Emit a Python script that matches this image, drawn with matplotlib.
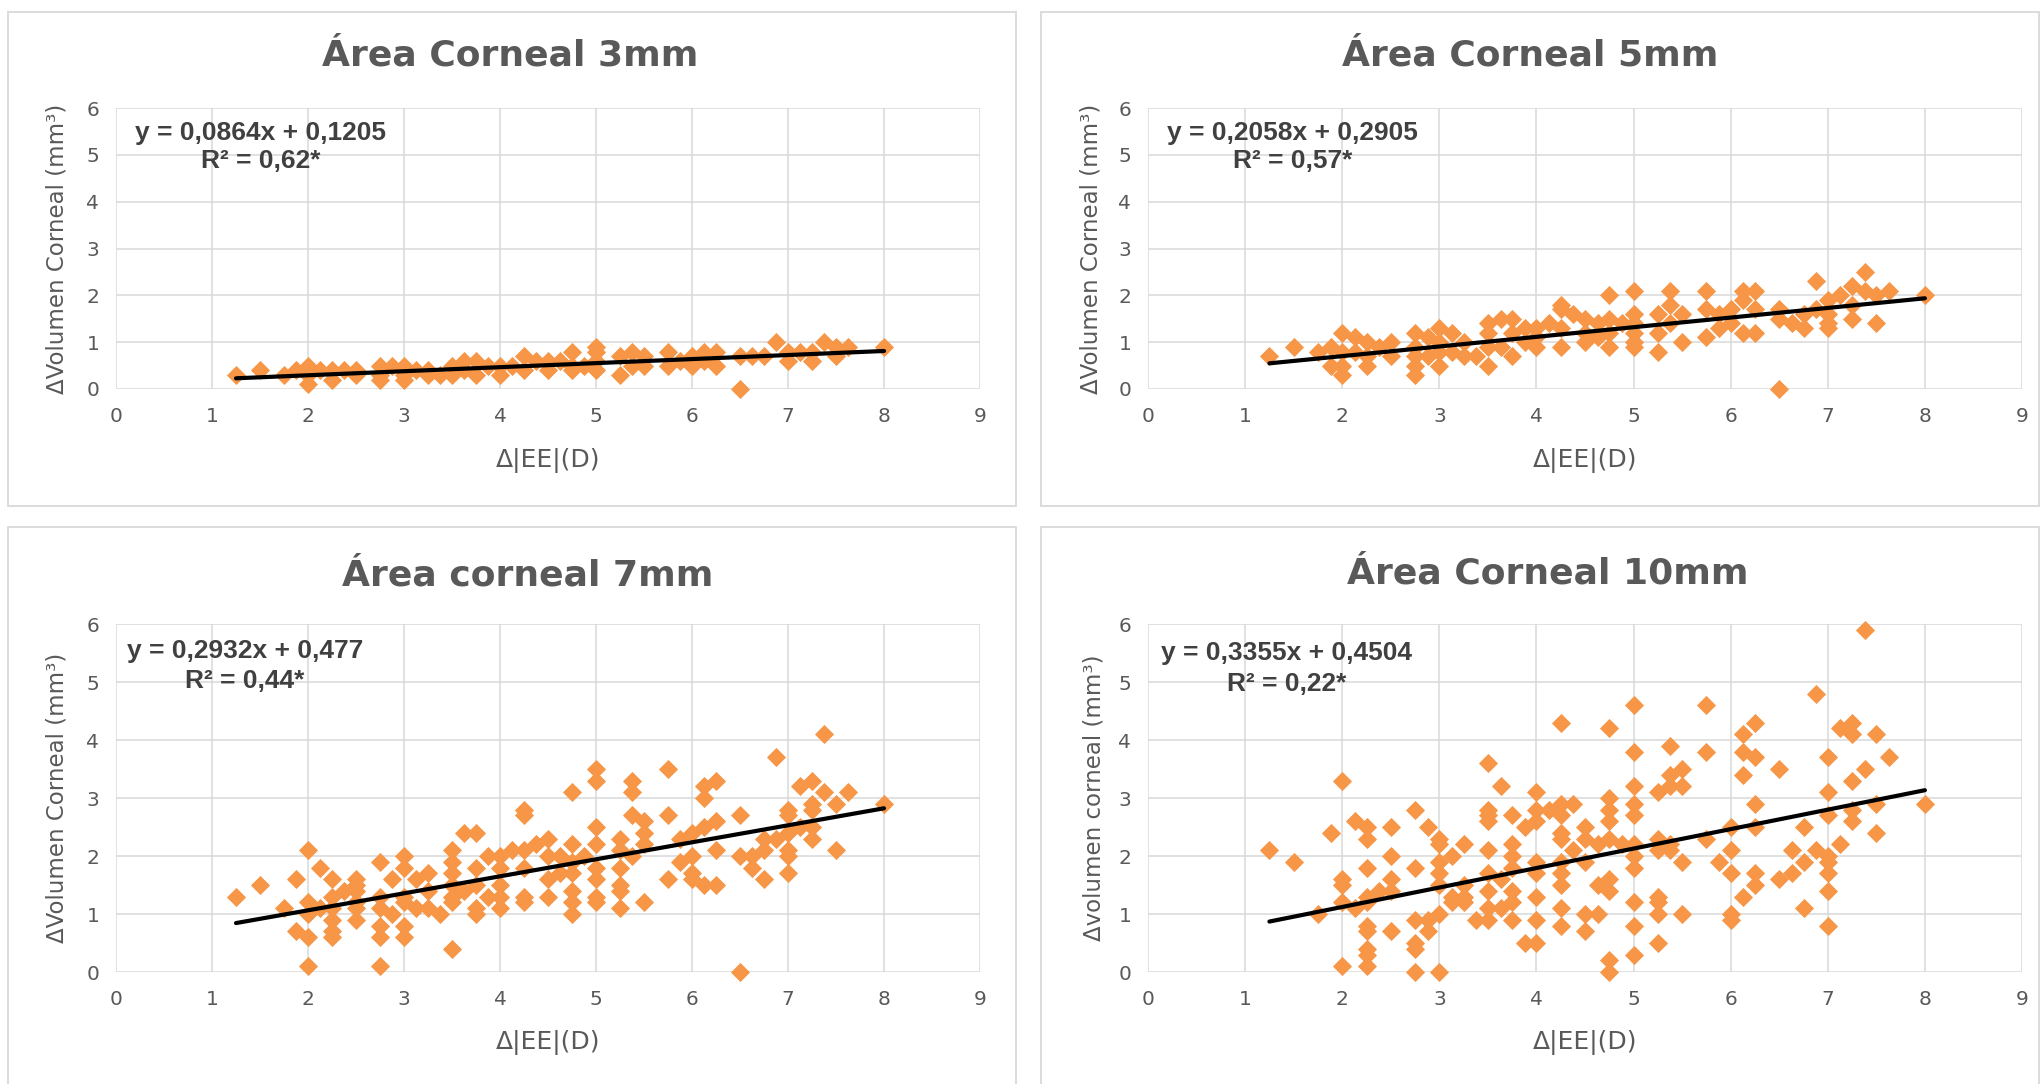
import numpy as np
import matplotlib
matplotlib.use("Agg")
import matplotlib.pyplot as plt
from matplotlib.patches import Rectangle

# ---------------- data ----------------
titles = ["Área Corneal 3mm", "Área Corneal 5mm", "Área corneal 7mm", "Área Corneal 10mm"]
ylabels = ["ΔVolumen Corneal (mm³)", "ΔVolumen Corneal (mm³)",
           "ΔVolumen Corneal (mm³)", "Δvolumen corneal (mm³)"]
xlabel = "Δ|EE|(D)"
eq_text = ["y = 0,0864x + 0,1205", "y = 0,2058x + 0,2905",
           "y = 0,2932x + 0,477", "y = 0,3355x + 0,4504"]
r2_text = ["R² = 0,62*", "R² = 0,57*", "R² = 0,44*", "R² = 0,22*"]
slopes = [0.0864, 0.2058, 0.2932, 0.3355]
intercepts = [0.1205, 0.2905, 0.477, 0.4504]

x_3mm = [1.25, 1.5, 1.75, 1.88, 2.0, 2.0, 2.0, 2.13, 2.25, 2.25, 2.38, 2.5, 2.5,
         2.75, 2.75, 2.75, 2.88, 3.0, 3.0, 3.0, 3.13, 3.25, 3.25, 3.38, 3.5, 3.5,
         3.63, 3.63, 3.75, 3.75, 3.88, 4.0, 4.0, 4.13, 4.25, 4.25, 4.38, 4.5, 4.5,
         4.63, 4.75, 4.75, 4.75, 4.88, 5.0, 5.0, 5.0, 5.0, 5.25, 5.25, 5.38, 5.38,
         5.5, 5.5, 5.75, 5.75, 5.88, 6.0, 6.0, 6.13, 6.13, 6.25, 6.25, 6.5, 6.5,
         6.63, 6.75, 6.88, 7.0, 7.0, 7.13, 7.25, 7.25, 7.38, 7.5, 7.5, 7.63, 8.0]
y_3mm = [0.3, 0.4, 0.3, 0.4, 0.5, 0.3, 0.1, 0.4, 0.4, 0.2, 0.4, 0.4, 0.3,
         0.5, 0.3, 0.2, 0.5, 0.5, 0.3, 0.2, 0.4, 0.4, 0.3, 0.3, 0.5, 0.3,
         0.6, 0.4, 0.6, 0.3, 0.5, 0.5, 0.3, 0.5, 0.7, 0.4, 0.6, 0.6, 0.4,
         0.6, 0.8, 0.5, 0.4, 0.5, 0.9, 0.8, 0.6, 0.4, 0.7, 0.3, 0.8, 0.5,
         0.7, 0.5, 0.8, 0.5, 0.6, 0.7, 0.5, 0.8, 0.6, 0.8, 0.5, 0.7, 0.0,
         0.7, 0.7, 1.0, 0.8, 0.6, 0.8, 0.8, 0.6, 1.0, 0.9, 0.7, 0.9, 0.9]

x_5mm = [1.25, 1.5, 1.75, 1.88, 1.88, 2.0, 2.0, 2.0, 2.0, 2.13, 2.13, 2.25, 2.25,
         2.25, 2.38, 2.5, 2.5, 2.75, 2.75, 2.75, 2.75, 2.75, 2.88, 2.88, 3.0, 3.0,
         3.0, 3.0, 3.13, 3.13, 3.25, 3.25, 3.38, 3.5, 3.5, 3.5, 3.5, 3.63, 3.63,
         3.75, 3.75, 3.75, 3.88, 3.88, 4.0, 4.0, 4.0, 4.13, 4.25, 4.25, 4.25, 4.25,
         4.38, 4.5, 4.5, 4.5, 4.63, 4.63, 4.75, 4.75, 4.75, 4.75, 4.88, 5.0, 5.0,
         5.0, 5.0, 5.0, 5.0, 5.25, 5.25, 5.25, 5.38, 5.38, 5.38, 5.5, 5.5, 5.75,
         5.75, 5.75, 5.88, 5.88, 6.0, 6.0, 6.13, 6.13, 6.13, 6.25, 6.25, 6.25, 6.5,
         6.5, 6.5, 6.63, 6.75, 6.75, 6.88, 6.88, 7.0, 7.0, 7.0, 7.0, 7.13, 7.25,
         7.25, 7.25, 7.38, 7.38, 7.5, 7.5, 7.63, 8.0]
y_5mm = [0.7, 0.9, 0.8, 0.9, 0.5, 1.2, 0.8, 0.5, 0.3, 1.1, 0.8, 1.0, 0.7,
         0.5, 0.9, 1.0, 0.7, 1.2, 0.9, 0.7, 0.5, 0.3, 1.1, 0.7, 1.3, 1.0,
         0.8, 0.5, 1.2, 0.8, 1.0, 0.7, 0.7, 1.4, 1.2, 0.9, 0.5, 1.5, 0.9,
         1.5, 1.2, 0.7, 1.3, 1.0, 1.3, 1.1, 0.9, 1.4, 1.8, 1.7, 1.3, 0.9,
         1.6, 1.5, 1.2, 1.0, 1.4, 1.1, 2.0, 1.5, 1.2, 0.9, 1.4, 2.1, 1.6,
         1.4, 1.2, 1.0, 0.9, 1.6, 1.2, 0.8, 2.1, 1.8, 1.4, 1.6, 1.0, 2.1,
         1.7, 1.1, 1.6, 1.3, 1.7, 1.4, 2.1, 1.9, 1.2, 2.1, 1.7, 1.2, 1.7,
         1.5, 0.0, 1.4, 1.6, 1.3, 2.3, 1.7, 1.9, 1.6, 1.4, 1.3, 2.0, 2.2,
         1.8, 1.5, 2.5, 2.1, 2.0, 1.4, 2.1, 2.0]

x_7mm = [1.25, 1.5, 1.75, 1.88, 1.88, 2.0, 2.0, 2.0, 2.0, 2.0, 2.13, 2.13, 2.25,
         2.25, 2.25, 2.25, 2.25, 2.25, 2.38, 2.5, 2.5, 2.5, 2.5, 2.5, 2.5, 2.75,
         2.75, 2.75, 2.75, 2.75, 2.75, 2.88, 2.88, 3.0, 3.0, 3.0, 3.0, 3.0, 3.0,
         3.13, 3.13, 3.25, 3.25, 3.25, 3.38, 3.5, 3.5, 3.5, 3.5, 3.5, 3.5, 3.5,
         3.63, 3.63, 3.75, 3.75, 3.75, 3.75, 3.75, 3.88, 3.88, 4.0, 4.0, 4.0, 4.0,
         4.0, 4.13, 4.25, 4.25, 4.25, 4.25, 4.25, 4.25, 4.38, 4.5, 4.5, 4.5, 4.5,
         4.63, 4.63, 4.75, 4.75, 4.75, 4.75, 4.75, 4.75, 4.75, 4.88, 5.0, 5.0, 5.0,
         5.0, 5.0, 5.0, 5.0, 5.0, 5.25, 5.25, 5.25, 5.25, 5.25, 5.25, 5.38, 5.38,
         5.38, 5.38, 5.5, 5.5, 5.5, 5.5, 5.75, 5.75, 5.75, 5.88, 5.88, 6.0, 6.0,
         6.0, 6.0, 6.13, 6.13, 6.13, 6.13, 6.25, 6.25, 6.25, 6.25, 6.5, 6.5, 6.5,
         6.63, 6.63, 6.75, 6.75, 6.75, 6.88, 6.88, 7.0, 7.0, 7.0, 7.0, 7.0, 7.0,
         7.13, 7.13, 7.25, 7.25, 7.25, 7.25, 7.25, 7.38, 7.38, 7.5, 7.5, 7.63, 8.0]
y_7mm = [1.3, 1.5, 1.1, 1.6, 0.7, 2.1, 1.2, 1.0, 0.6, 0.1, 1.8, 1.1, 1.6,
         1.3, 1.1, 0.9, 0.7, 0.6, 1.4, 1.6, 1.5, 1.4, 1.2, 1.1, 0.9, 1.9,
         1.3, 1.1, 0.8, 0.6, 0.1, 1.6, 1.0, 2.0, 1.8, 1.3, 1.2, 0.8, 0.6,
         1.6, 1.1, 1.7, 1.4, 1.1, 1.0, 2.1, 1.9, 1.7, 1.5, 1.3, 1.2, 0.4,
         2.4, 1.4, 2.4, 1.8, 1.5, 1.1, 1.0, 2.0, 1.3, 2.0, 1.8, 1.5, 1.3,
         1.1, 2.1, 2.8, 2.7, 2.1, 1.8, 1.3, 1.2, 2.2, 2.3, 2.0, 1.6, 1.3,
         2.0, 1.7, 3.1, 2.2, 1.9, 1.7, 1.4, 1.2, 1.0, 2.0, 3.5, 3.3, 2.5,
         2.2, 1.8, 1.6, 1.3, 1.2, 2.3, 2.1, 1.8, 1.5, 1.4, 1.1, 3.3, 3.1,
         2.7, 2.0, 2.6, 2.4, 2.2, 1.2, 3.5, 2.7, 1.6, 2.3, 1.9, 2.4, 2.0,
         1.7, 1.6, 3.2, 3.0, 2.5, 1.5, 3.3, 2.6, 2.1, 1.5, 2.7, 2.0, 0.0,
         2.0, 1.8, 2.3, 2.1, 1.6, 3.7, 2.3, 2.8, 2.7, 2.4, 2.1, 2.0, 1.7,
         3.2, 2.5, 3.3, 2.9, 2.8, 2.5, 2.3, 4.1, 3.1, 2.9, 2.1, 3.1, 2.9]

x_10mm = [1.25, 1.5, 1.75, 1.88, 2.0, 2.0, 2.0, 2.0, 2.0, 2.13, 2.13, 2.25, 2.25,
          2.25, 2.25, 2.25, 2.25, 2.25, 2.25, 2.25, 2.25, 2.38, 2.5, 2.5, 2.5, 2.5,
          2.5, 2.75, 2.75, 2.75, 2.75, 2.75, 2.75, 2.88, 2.88, 2.88, 3.0, 3.0, 3.0,
          3.0, 3.0, 3.0, 3.0, 3.13, 3.13, 3.13, 3.25, 3.25, 3.25, 3.25, 3.38, 3.5,
          3.5, 3.5, 3.5, 3.5, 3.5, 3.5, 3.5, 3.5, 3.63, 3.63, 3.63, 3.75, 3.75, 3.75,
          3.75, 3.75, 3.75, 3.75, 3.88, 3.88, 4.0, 4.0, 4.0, 4.0, 4.0, 4.0, 4.0, 4.0,
          4.13, 4.25, 4.25, 4.25, 4.25, 4.25, 4.25, 4.25, 4.25, 4.25, 4.25, 4.38,
          4.38, 4.5, 4.5, 4.5, 4.5, 4.5, 4.63, 4.63, 4.63, 4.75, 4.75, 4.75, 4.75,
          4.75, 4.75, 4.75, 4.75, 4.75, 4.88, 5.0, 5.0, 5.0, 5.0, 5.0, 5.0, 5.0,
          5.0, 5.0, 5.0, 5.0, 5.25, 5.25, 5.25, 5.25, 5.25, 5.25, 5.25, 5.38, 5.38,
          5.38, 5.38, 5.38, 5.5, 5.5, 5.5, 5.5, 5.75, 5.75, 5.75, 5.88, 6.0, 6.0,
          6.0, 6.0, 6.0, 6.13, 6.13, 6.13, 6.13, 6.25, 6.25, 6.25, 6.25, 6.25, 6.25,
          6.5, 6.5, 6.63, 6.63, 6.75, 6.75, 6.75, 6.88, 6.88, 7.0, 7.0, 7.0, 7.0,
          7.0, 7.0, 7.0, 7.0, 7.13, 7.13, 7.25, 7.25, 7.25, 7.25, 7.25, 7.38, 7.38,
          7.5, 7.5, 7.5, 7.63, 8.0]
y_10mm = [2.1, 1.9, 1.0, 2.4, 3.3, 1.6, 1.5, 1.2, 0.1, 1.1, 2.6, 2.5, 2.3,
          1.8, 1.3, 1.2, 0.8, 0.7, 0.4, 0.3, 0.1, 1.4, 2.5, 2.0, 1.6, 1.4,
          0.7, 2.8, 1.8, 0.9, 0.5, 0.4, 0.0, 2.5, 0.9, 0.7, 2.3, 2.2, 1.9,
          1.7, 1.5, 1.0, 0.0, 2.0, 1.3, 1.2, 2.2, 1.5, 1.3, 1.2, 0.9, 3.6,
          2.8, 2.7, 2.6, 2.1, 1.7, 1.4, 1.1, 0.9, 3.2, 1.6, 1.1, 2.7, 2.2,
          2.0, 1.8, 1.4, 1.2, 0.9, 2.5, 0.5, 3.1, 2.8, 2.6, 1.9, 1.7, 1.3,
          0.9, 0.5, 2.8, 4.3, 2.9, 2.7, 2.4, 2.3, 1.9, 1.7, 1.5, 1.1, 0.8,
          2.9, 2.1, 2.5, 2.3, 1.9, 1.0, 0.7, 2.2, 1.5, 1.0, 4.2, 3.0, 2.8,
          2.6, 2.3, 1.6, 1.4, 0.2, 0.0, 2.2, 4.6, 3.8, 3.2, 2.9, 2.7, 2.2,
          2.0, 1.8, 1.2, 0.8, 0.3, 3.1, 2.3, 2.1, 1.3, 1.2, 1.0, 0.5, 3.9,
          3.4, 3.2, 2.2, 2.1, 3.5, 3.2, 1.9, 1.0, 4.6, 3.8, 2.3, 1.9, 2.5,
          2.1, 1.7, 1.0, 0.9, 4.1, 3.8, 3.4, 1.3, 4.3, 3.7, 2.9, 2.5, 1.7,
          1.5, 3.5, 1.6, 2.1, 1.7, 2.5, 1.9, 1.1, 4.8, 2.1, 3.7, 3.1, 2.7,
          2.0, 1.9, 1.7, 1.4, 0.8, 4.2, 2.2, 4.3, 4.1, 3.3, 2.8, 2.6, 5.9,
          3.5, 4.1, 2.9, 2.4, 3.7, 2.9]

xs = [x_3mm, x_5mm, x_7mm, x_10mm]
ys = [y_3mm, y_5mm, y_7mm, y_10mm]

x_ticks = [0, 1, 2, 3, 4, 5, 6, 7, 8, 9]
y_ticks = [0, 1, 2, 3, 4, 5, 6]

# ---------------- style ----------------
W, H = 2042, 1084
ORANGE = "#F79646"
GRID = "#D9D9D9"
TXT = "#595959"
EQ = "#404040"

fig = plt.figure(figsize=(W / 100, H / 100), dpi=100)
fig.patch.set_facecolor("white")

def fx(px):
    return px / W

def fy(py):
    return 1 - py / H

# panel boxes (pixel coords: left, top, right, bottom)
boxes = [(8, 12, 1016, 506), (1041, 12, 2039, 506),
         (8, 527, 1016, 1095), (1041, 527, 2039, 1095)]
for (l, t, r, b) in boxes:
    fig.patches.append(Rectangle((fx(l), fy(b)), fx(r) - fx(l), fy(t) - fy(b),
                                 transform=fig.transFigure, facecolor="none",
                                 edgecolor=GRID, linewidth=1.3, zorder=-5))

# axes rectangles (pixel coords: left, top, right, bottom)
axes_px = [(116, 108, 980, 389), (1148, 108, 2022, 389),
           (116, 624, 980, 972), (1148, 624, 2022, 972)]
title_pos = [(510, 66), (1530, 66), (528, 586), (1548, 583)]
ylab_x = [-0.068, -0.065, -0.068, -0.062]
xlab_y = [-0.253, -0.253, -0.204, -0.204]
eq_pos = [(0.167, 0.886, 0.786), (0.165, 0.886, 0.786),
          (0.149, 0.901, 0.816), (0.159, 0.897, 0.807)]

for i in range(4):
    l, t, r, b = axes_px[i]
    ax = fig.add_axes([fx(l), fy(b), fx(r) - fx(l), fy(t) - fy(b)])
    ax.set_zorder(1)
    ax.patch.set_alpha(0)
    ax.set_xlim(0, 9)
    ax.set_ylim(0, 6)
    ax.set_xticks(x_ticks)
    ax.set_yticks(y_ticks)
    ax.grid(True, color=GRID, linewidth=1.1)
    ax.set_axisbelow(True)
    for s in ax.spines.values():
        s.set_visible(False)
    ax.tick_params(length=0, labelsize=14.5, labelcolor=TXT)
    ax.tick_params(axis="y", pad=12)
    ax.tick_params(axis="x", pad=13)

    ax.scatter(xs[i], ys[i], marker="D", s=95, color=ORANGE,
               linewidths=0, zorder=3, clip_on=False)
    xl = np.array([min(xs[i]), max(xs[i])])
    ax.plot(xl, slopes[i] * xl + intercepts[i], color="black",
            linewidth=3.0, zorder=4, solid_capstyle="round")

    ax.set_ylabel(ylabels[i], fontsize=16.5, color=TXT)
    ax.yaxis.set_label_coords(ylab_x[i], 0.5)
    ax.set_xlabel(xlabel, fontsize=18, color=TXT)
    ax.xaxis.set_label_coords(0.5, xlab_y[i])
    ax.xaxis.label.set_va("center")
    ax.yaxis.label.set_va("center")

    ex, ey1, ey2 = eq_pos[i]
    ax.text(ex, ey1, eq_text[i], transform=ax.transAxes, ha="center",
            va="baseline", fontsize=19, fontweight="bold", color=EQ,
            family="Liberation Sans", zorder=5)
    ax.text(ex, ey2, r2_text[i], transform=ax.transAxes, ha="center",
            va="baseline", fontsize=19, fontweight="bold", color=EQ,
            family="Liberation Sans", zorder=5)

    tx, ty = title_pos[i]
    fig.text(fx(tx), fy(ty), titles[i], ha="center", va="baseline",
             fontsize=26, fontweight="bold", color=TXT)

fig.savefig("out.png", dpi=100, facecolor="white")
